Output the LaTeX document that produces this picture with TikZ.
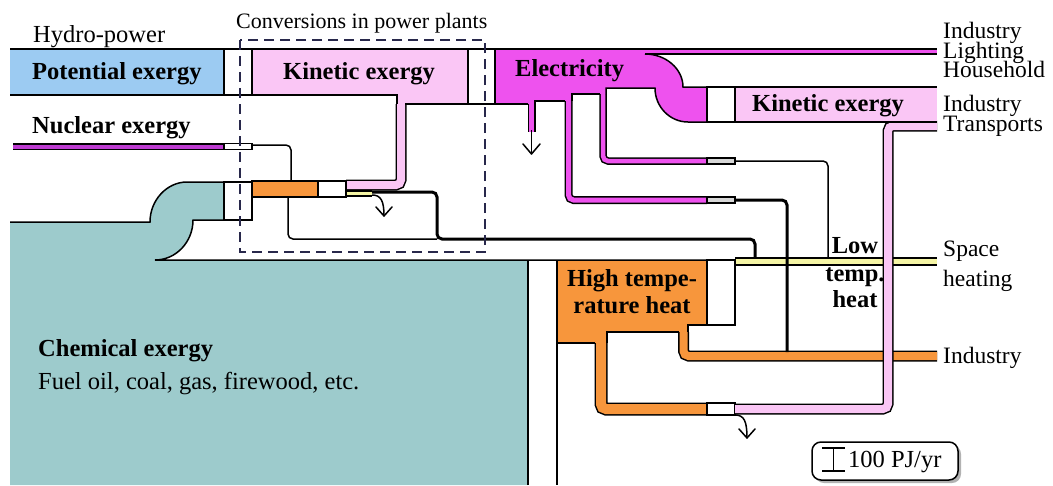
\documentclass[tikz,border=0pt]{standalone}
\usepackage{fontspec}
\setmainfont{Liberation Serif}
\usetikzlibrary{arrows.meta}
\definecolor{cblue}{RGB}{156,203,242}
\definecolor{cpink}{RGB}{250,198,245}
\definecolor{cmag}{RGB}{238,82,238}
\definecolor{cnuc}{RGB}{190,60,210}
\definecolor{cteal}{RGB}{157,203,204}
\definecolor{corange}{RGB}{247,150,60}
\definecolor{cyellow}{RGB}{245,245,165}
\definecolor{cgray}{RGB}{215,215,215}
\definecolor{cdash}{RGB}{40,40,75}
\newcommand{\flowstrip}[4]{%
  \draw[line width=#3, black, rounded corners=5pt] #4;
  \draw[line width=#2, #1, rounded corners=5pt] #4;}
\tikzset{
  ol/.style={line width=1.5pt, black},
  slot/.style={draw=black, line width=1.5pt, fill=white},
  gslot/.style={draw=black, line width=1.5pt, fill=cgray},
  lbl/.style={font=\fontsize{24.5}{26}\selectfont, inner sep=0pt, anchor=base west},
  rlbl/.style={lbl, font=\fontsize{23.5}{25}\selectfont},
  blbl/.style={lbl, font=\fontsize{24.5}{26}\selectfont\bfseries},
  loss/.style={line width=1.5pt},
  barb/.style={line width=1.5pt, line join=round, line cap=round},
  thickflow/.style={line width=3pt, black, rounded corners=5pt},
}
\begin{document}
\begin{tikzpicture}[x=1pt,y=-1pt]
\useasboundingbox (0,0) rectangle (1053,485);
% ---------- fills of large areas
\fill[cteal] (10,222) -- (150,222) .. controls (150,200) and (167,182) .. (187,182) -- (224,182) -- (224,220) -- (193,220) .. controls (193,242) and (176,260) .. (155,260) -- (528,260) -- (528,485) -- (10,485) -- cycle;
\fill[cblue] (10,49) rectangle (224,95);
\fill[cpink] (252,49) -- (468,49) -- (468,104) -- (397,104) -- (397,95) -- (252,95) -- cycle;
\fill[cmag] (495,49) -- (645,49) -- (645,54) .. controls (666,54) and (683,69) .. (683,87) -- (707,87) -- (707,122) -- (688,122) .. controls (670,122) and (655,107) .. (655,88) -- (606,88) -- (606,94) -- (572,94) -- (572,101) -- (535,101) -- (535,104) -- (495,104) -- cycle;
\fill[cmag] (640,49) rectangle (937,54);
\fill[corange] (557,260) -- (707,260) -- (707,325) -- (688,325) -- (688,332) -- (607,332) -- (607,343) -- (557,343) -- cycle;
% ---------- strips
\flowstrip{cpink}{8pt}{11pt}{(401,104) -- (401,185) -- (346,185)}
\flowstrip{cyellow}{3.5pt}{6.5pt}{(346,193.5) -- (372,193.5)}
\flowstrip{cnuc}{4pt}{7pt}{(13,146.5) -- (224,146.5)}
\flowstrip{cmag}{5pt}{8pt}{(531.5,104) -- (531.5,132)}
\flowstrip{cmag}{5pt}{8pt}{(568.5,101) -- (568.5,200) -- (707,200)}
\flowstrip{cmag}{4.5pt}{7.5pt}{(603,94) -- (603,161) -- (707,161)}
\flowstrip{cyellow}{5.5pt}{8.5pt}{(735,261.5) -- (937,261.5)}
\flowstrip{corange}{8pt}{11pt}{(683.5,332) -- (683.5,356) -- (937,356)}
\flowstrip{corange}{10pt}{13pt}{(601,343) -- (601,409) -- (707,409)}
% ---------- outlines
\draw[ol] (10,222) -- (150,222) .. controls (150,200) and (167,182) .. (187,182) -- (224,182);
\draw[ol] (224,220) -- (193,220) .. controls (193,242) and (176,260) .. (155,260) -- (735,260);
\draw[ol] (528,260) -- (528,485);
\draw[ol] (557,260) -- (557,485);
\draw[ol] (10,49) -- (224,49) (10,95) -- (224,95);
\draw[ol] (252,49) -- (468,49);
\draw[ol] (252,95) -- (397,95) -- (397,104);
\draw[ol] (405,104) -- (468,104);
\draw[ol] (495,49) -- (937,49);
\draw[ol] (645,54) .. controls (666,54) and (683,69) .. (683,87) -- (707,87);
\draw[ol] (645,54) -- (937,54);
\draw[ol] (707,122) -- (688,122) .. controls (670,122) and (655,107) .. (655,88) -- (606,88) -- (606,94);
\draw[ol] (600,94) -- (572,94) -- (572,101);
\draw[ol] (565,101) -- (535,101) -- (535,104);
\draw[ol] (528,104) -- (495,104);
\draw[ol] (707,325) -- (688,325) -- (688,332);
\draw[ol] (679,332) -- (607,332) -- (607,343);
\draw[ol] (595,343) -- (557,343);
% ---------- slots and boxes
\draw[slot] (224,49) rectangle (252,95);
\draw[slot] (468,49) rectangle (495,104);
\draw[slot] (224,143.5) rectangle (252,149.5);
\draw[slot] (224,182) rectangle (252,220);
\draw[ol, fill=corange] (252,181) rectangle (318,197);
\draw[slot] (318,181) rectangle (346,197);
\draw[gslot] (707,197) rectangle (735,203);
\draw[gslot] (707,158) rectangle (735,164);
\draw[slot] (707,260) rectangle (735,325);
\draw[slot] (707,403) rectangle (735,415);
% ---------- thin / thick lines
\draw[ol, rounded corners=5pt] (252,145) -- (291,145) -- (291,181);
\draw[ol, rounded corners=5pt] (288,197) -- (288,239) -- (437,239);
\draw[thickflow] (372,192) -- (437,192) -- (437,239) -- (755,239) -- (755,258);
\draw[thickflow] (735,200) -- (787,200) -- (787,352);
\draw[ol, rounded corners=5pt] (735,161) -- (828,161) -- (828,258);
% ---------- transport strip (on top)
\flowstrip{cpink}{8pt}{11pt}{(735,409) -- (888,409) -- (888,126) -- (937,126)}
% kinetic exergy (motors)
\fill[cpink] (735,87) rectangle (937,122);
\draw[ol] (735,87) -- (937,87) (735,122) -- (937,122);
\draw[slot] (707,87) rectangle (735,122);
% ---------- loss arrows
\draw[loss] (372,195) .. controls (381,195) and (384,201) .. (384,216);
\draw[barb] (376,207) -- (384,216) -- (392,207);
\draw[loss] (531.5,130) -- (531.5,154);
\draw[barb] (523,144) -- (531.5,154) -- (540,144);
\draw[loss] (735,415) .. controls (744,415) and (747,421) .. (747,438);
\draw[barb] (739,429) -- (747,438) -- (755,429);
% ---------- dashed frame
\draw[cdash, line width=1.8pt, dash pattern=on 10pt off 6pt] (240,40) rectangle (485,252);
% ---------- labels
\node[lbl] (hydro) at (33,42) {Hydro-power};
\node[lbl, font=\fontsize{22}{24}\selectfont] (conv) at (236,28) {Conversions in power plants};
\node[blbl] (pot) at (32,79) {Potential exergy};
\node[blbl] (kin1) at (283,79) {Kinetic exergy};
\node[blbl] (elec) at (515,76) {Electricity};
\node[blbl] (nuc) at (32,133) {Nuclear exergy};
\node[blbl] (kin2) at (752,111) {Kinetic exergy};
\node[blbl] (chem) at (38,356) {Chemical exergy};
\node[lbl] (fuel) at (38,389) {Fuel oil, coal, gas, firewood, etc.};
\node[blbl, anchor=base] (ht1) at (632,286) {High tempe-};
\node[blbl, anchor=base] (ht2) at (632,313) {rature heat};
\node[blbl, anchor=base] (lt1) at (855,253) {Low};
\node[blbl, anchor=base] (lt2) at (855,281) {temp.};
\node[blbl, anchor=base] (lt3) at (855,307) {heat};
\node[rlbl] (r1) at (943,38) {Industry};
\node[rlbl] (r2) at (943,58) {Lighting};
\node[rlbl] (r3) at (943,77) {Household};
\node[rlbl] (r4) at (943,111) {Industry};
\node[rlbl] (r5) at (943,131) {Transports};
\node[rlbl] (r6) at (943,256) {Space};
\node[rlbl] (r7) at (943,286) {heating};
\node[rlbl] (r8) at (943,363) {Industry};
% ---------- scale
\fill[black!30, rounded corners=9pt] (815,445) rectangle (961,483);
\draw[line width=1.5pt, fill=white, rounded corners=9pt] (812,442) rectangle (958,480);
\draw[line width=1.5pt] (822,448) -- (845,448) (833.5,448) -- (833.5,471) (822,471) -- (845,471);
\node[lbl] (scale) at (848,467) {100 PJ/yr};
\end{tikzpicture}
\end{document}
